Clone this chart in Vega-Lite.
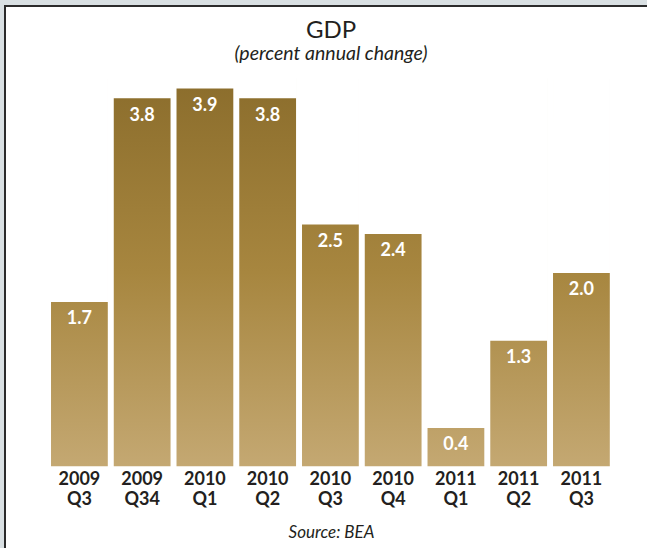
{
  "$schema": "https://vega.github.io/schema/vega-lite/v6.json",
  "width": 642,
  "height": 542,
  "autosize": {"type": "none"},
  "padding": {"left": 5, "top": 6, "right": 0, "bottom": 0},
  "background": "#d9e0e3",
  "config": {
    "view": {"fill": "white", "stroke": "#2b2b2b", "strokeWidth": 2, "strokeDash": [642, 1184, 542]}
  },
  "title": {
    "text": "GDP",
    "subtitle": "(percent annual change)",
    "anchor": "middle",
    "offset": -57,
    "dx": 5,
    "font": "Lato",
    "fontSize": 24,
    "fontWeight": "normal",
    "color": "#231f20",
    "subtitleFont": "Lato",
    "subtitleFontSize": 19.5,
    "subtitleFontStyle": "italic",
    "subtitleColor": "#231f20",
    "subtitlePadding": 2
  },
  "data": {
    "values": [
      {"quarter": "2009 Q3", "value": 1.7},
      {"quarter": "2009 Q34", "value": 3.8},
      {"quarter": "2010 Q1", "value": 3.9},
      {"quarter": "2010 Q2", "value": 3.8},
      {"quarter": "2010 Q3", "value": 2.5},
      {"quarter": "2010 Q4", "value": 2.4},
      {"quarter": "2011 Q1", "value": 0.4},
      {"quarter": "2011 Q2", "value": 1.3},
      {"quarter": "2011 Q3", "value": 2.0}
    ]
  },
  "encoding": {
    "x": {
      "field": "quarter",
      "type": "nominal",
      "sort": null,
      "scale": {"paddingInner": 0.095, "paddingOuter": 0.663, "align": 0.553},
      "axis": {
        "title": "Source: BEA",
        "titleFont": "Lato",
        "titleFontSize": 17,
        "titleFontStyle": "italic",
        "titleFontWeight": "normal",
        "titleColor": "#231f20",
        "titleX": 326,
        "titlePadding": 16,
        "offset": -81,
        "labelAngle": 0,
        "labelExpr": "split(datum.label, ' ')",
        "labelFont": "Lato",
        "labelFontSize": 18,
        "labelFontWeight": "bold",
        "labelColor": "#231f20",
        "labelLineHeight": 20,
        "labelPadding": 3,
        "ticks": false,
        "domain": false,
        "grid": false
      }
    }
  },
  "layer": [
    {
      "mark": {
        "type": "bar",
        "fill": {
          "gradient": "linear",
          "x1": 0, "y1": 0, "x2": 0, "y2": 1,
          "stops": [
            {"offset": 0, "color": "#8b6d2c"},
            {"offset": 0.5, "color": "#a7863f"},
            {"offset": 1, "color": "#c4a872"}
          ]
        }
      },
      "encoding": {
        "y": {
          "datum": 0,
          "type": "quantitative",
          "scale": {"domain": [-0.844, 4.744], "nice": false, "zero": false},
          "axis": null
        },
        "y2": {"datum": 4}
      }
    },
    {
      "mark": {"type": "bar", "fill": "white", "stroke": "white", "strokeWidth": 1.5},
      "encoding": {
        "y": {"field": "value", "type": "quantitative"},
        "y2": {"datum": 4}
      }
    },
    {
      "mark": {
        "type": "text",
        "color": "white",
        "font": "Lato",
        "fontSize": 18,
        "fontWeight": "bold",
        "baseline": "alphabetic",
        "dy": 23
      },
      "encoding": {
        "y": {"field": "value", "type": "quantitative"},
        "text": {"field": "value", "type": "quantitative", "format": ".1f"}
      }
    }
  ]
}
